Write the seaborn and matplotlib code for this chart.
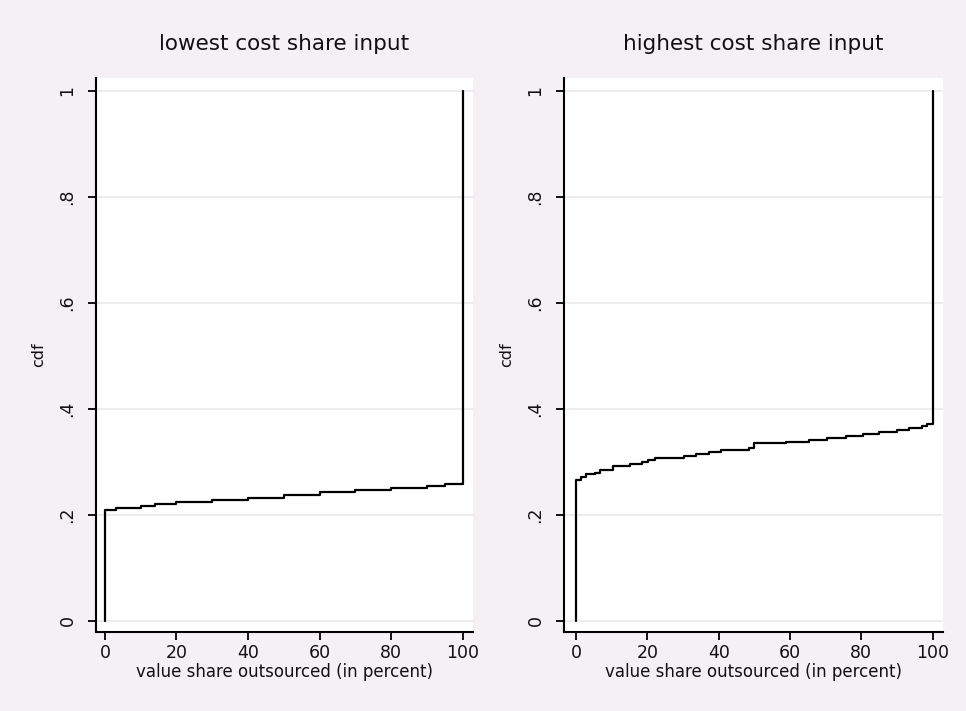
import matplotlib
matplotlib.use("Agg")
import matplotlib.pyplot as plt
import seaborn as sns
import pandas as pd

# ---- data ----
low_x = [0, 0, 3, 10, 14, 20, 30, 40, 50, 60, 70, 80, 90, 95, 100]
low_cdf = [0.0, 0.209, 0.214, 0.217, 0.221, 0.2245, 0.228, 0.232, 0.238,
           0.243, 0.2466, 0.250, 0.254, 0.258, 1.0]

high_x = [0, 0, 1.3, 2.8, 5.3, 6.6, 10.3, 15.2, 18.4, 20.3, 22, 30.3, 33.7,
          37.2, 40.5, 48.4, 50, 58.9, 65.3, 70.4, 75.6, 80.5, 84.9, 90, 93.5,
          97, 98.5, 100]
high_cdf = [0.0, 0.266, 0.271, 0.277, 0.280, 0.285, 0.292, 0.296, 0.300,
            0.304, 0.308, 0.311, 0.315, 0.319, 0.323, 0.326, 0.335, 0.338,
            0.342, 0.345, 0.349, 0.353, 0.357, 0.361, 0.365, 0.368, 0.372, 1.0]

titles = ["lowest cost share input", "highest cost share input"]
x_ticks = [0, 20, 40, 60, 80, 100]
y_ticks = [0, 0.2, 0.4, 0.6, 0.8, 1.0]
y_ticklabels = ["0", ".2", ".4", ".6", ".8", "1"]
x_label = "value share outsourced (in percent)"
y_label = "cdf"

sns.set_theme(style="white")
plt.rcParams["font.family"] = ["DejaVu Sans"]

W, H = 966, 711
bg = "#f5f0f4"
fig = plt.figure(figsize=(W / 100, H / 100), dpi=100, facecolor=bg)

def px_axes(x0, y0, x1, y1):
    return fig.add_axes([x0 / W, 1 - y1 / H, (x1 - x0) / W, (y1 - y0) / H])

panels = [
    (px_axes(96, 78, 473, 632), low_x, low_cdf, titles[0], (-2.5, 102.9)),
    (px_axes(564, 78, 943, 632), high_x, high_cdf, titles[1], (-3.4, 102.9)),
]

for ax, xs, ys, title, xlim in panels:
    ax.set_facecolor("white")
    df = pd.DataFrame({"x": xs, "cdf": ys})
    for yt in y_ticks:
        ax.axhline(yt, color="#ebe9eb", lw=1.2, zorder=0)
    sns.lineplot(data=df, x="x", y="cdf", ax=ax, estimator=None, sort=False,
                 drawstyle="steps-post", color="black", lw=1.6)
    ax.set_xlim(*xlim)
    ax.set_ylim(-0.0208, 1.0245)
    ax.set_xticks(x_ticks)
    ax.set_xticklabels([str(t) for t in x_ticks], fontsize=12.5, color="#111111")
    ax.set_yticks(y_ticks)
    ax.set_yticklabels(y_ticklabels, fontsize=12.5, rotation=90, va="center",
                       color="#111111")
    ax.tick_params(axis="both", direction="out", length=6, width=1.3,
                   color="black", left=True, bottom=True)
    ax.tick_params(axis="y", pad=8)
    ax.tick_params(axis="x", pad=3)
    for s in ["top", "right"]:
        ax.spines[s].set_visible(False)
    for s in ["left", "bottom"]:
        ax.spines[s].set_color("black")
        ax.spines[s].set_linewidth(1.5)
    ax.set_xlabel(x_label, fontsize=12, labelpad=0.5, color="#111111")
    ax.set_ylabel(y_label, fontsize=11.5, labelpad=9, color="#111111")
    ax.set_title(title, fontsize=15.5, pad=20, color="#111111")

fig.savefig("out.png", dpi=100, facecolor=bg)
